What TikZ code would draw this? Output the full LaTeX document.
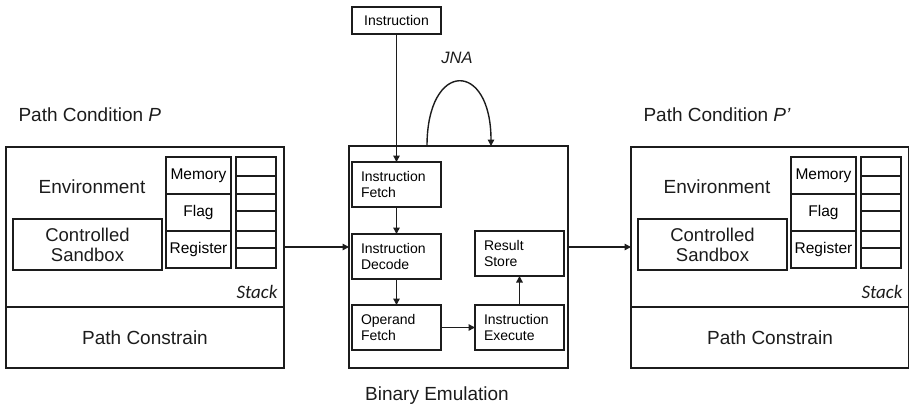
\documentclass[tikz,border=0pt]{standalone}
\usepackage{fontspec}
\setmainfont{Liberation Sans}
\newfontfamily\stackfont{Carlito}
\usetikzlibrary{arrows.meta,calc}
\definecolor{ink}{HTML}{1C1C1C}
\tikzset{
  box/.style={draw=ink, line width=1.5pt, inner sep=0pt, outer sep=0pt},
  cell/.style={box, line width=2.6pt, font=\fontsize{15.5}{18}\selectfont},
  stackcell/.style={box, line width=1.6pt, minimum width=40pt},
  stepbox/.style={box, align=left, inner xsep=9pt, text width=71pt,
    font=\fontsize{14}{16.5}\selectfont, minimum width=89pt, minimum height=45pt},
  link/.style={draw=ink, line width=1.4pt, -{Triangle[length=6.5pt,width=6.5pt]}},
  big/.style={font=\fontsize{19}{21}\selectfont, text=ink},
}
\begin{document}
\begin{tikzpicture}[x=1pt,y=-1pt]
\useasboundingbox (0,0) rectangle (909,408);

% the two path-condition panels (before and after emulation)
\foreach \s/\dx/\lab in {L/0/{P}, R/625/{P’}}{
  \begin{scope}[xshift=\dx]
    \node[box, minimum width=278pt, minimum height=160pt] (env\s) at (145,227) {};
    \node[box, big, minimum width=278pt, minimum height=61pt] (pc\s) at (145,337.5) {Path Constrain};
    \node[box, big, align=center, minimum width=149pt, minimum height=51pt,
          font=\fontsize{18.5}{20}\selectfont] (sb\s) at (87.5,244.5) {Controlled\\Sandbox};
    \node[big] (envlab\s) at (92,187) {Environment};
    \node[cell, minimum width=65pt, minimum height=37pt] (mem\s) at (198.5,175.5) {Memory};
    \node[cell, minimum width=65pt, minimum height=37pt] (flag\s) at (198.5,212.5) {Flag};
    \node[cell, minimum width=65pt, minimum height=37pt] (reg\s) at (198.5,249.5) {Register};
    \foreach \a/\b [count=\k] in {157/176,176/194,194/211,211/231,231/248,248/268}
      \node[stackcell, minimum height={\b-\a}] (st\s\k) at (256,{(\a+\b)/2}) {};
    \node[font=\stackfont\itshape\fontsize{19}{21}\selectfont, text=ink] (stk\s) at (257,292) {Stack};
    \node[big, anchor=west] (pcond\s) at (15,115) {Path Condition \textit{\lab}};
  \end{scope}
}

% binary emulation block
\node[box, minimum width=219pt, minimum height=222pt] (emu) at (458.5,257) {};
\node[box, font=\fontsize{14}{16.5}\selectfont, minimum width=89pt, minimum height=27pt] (instr) at (396.5,20.5) {Instruction};
\node[stepbox] (IF) at (396.5,184.5) {Instruction\\Fetch};
\node[stepbox] (ID) at (396.5,256.5) {Instruction\\Decode};
\node[stepbox] (OF) at (396.5,327.5) {Operand\\Fetch};
\node[stepbox] (RS) at (519.5,253.5) {Result\\Store};
\node[stepbox] (IE) at (519.5,327.5) {Instruction\\Execute};
\node[big] (emulab) at (437,396) {Binary Emulation};
\node[font=\itshape\fontsize{16.5}{18}\selectfont, text=ink] (jna) at (457,58) {JNA};

\draw[link] (instr.south) -- (IF.north);
\draw[link] (IF.south) -- (ID.north);
\draw[link] (ID.south) -- (OF.north);
\draw[link] (OF.east) -- (IE.west);
\draw[link] (IE.north) -- (RS.south);

% jump loop on top of the emulation block
\coordinate (ja) at (427,146);
\coordinate (jb) at (491,146);
\draw[link] (ja) .. controls (427,60) and (491,60) .. (jb);

% flow between panels
\coordinate (row) at (0,247);
\draw[link] (envL.east |- row) -- (emu.west |- row);
\draw[link] (emu.east |- row) -- (envR.west |- row);
\end{tikzpicture}
\end{document}
